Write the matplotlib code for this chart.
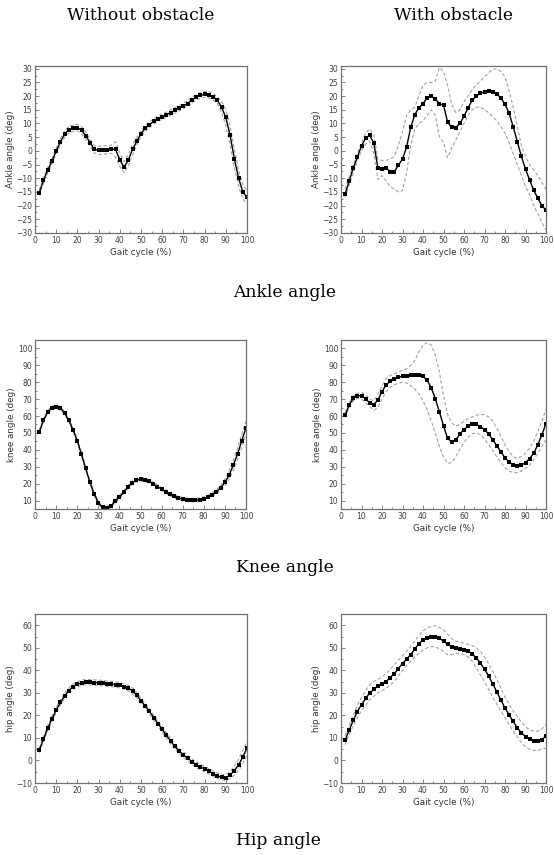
import numpy as np
import matplotlib.pyplot as plt

# gait cycle sample points (%)
gait = list(range(2, 101, 2))

# ---------------- ankle ----------------
ankle_no_mean = [-15.3, -10.8, -7.0, -3.8, 0.0, 3.3, 6.2, 7.8, 8.3, 8.5,
                 7.5, 5.5, 3.0, 0.5, 0.2, 0.3, 0.4, 0.6, 0.5, -3.2,
                 -6.0, -3.4, 0.5, 3.5, 6.3, 8.2, 9.5, 10.8, 11.8, 12.5,
                 13.2, 14.0, 14.8, 15.6, 16.4, 17.3, 18.6, 19.5, 20.3, 20.6,
                 20.5, 19.8, 18.5, 16.0, 12.2, 5.8, -2.8, -9.8, -15.0, -17.0]
ankle_no_sd = [1.0, 1.0, 1.0, 1.0, 1.0, 1.2, 1.2, 1.2, 1.2, 1.2,
               1.3, 1.3, 1.3, 1.3, 1.5, 1.5, 1.5, 1.5, 2.8, 2.5,
               2.0, 2.0, 2.0, 1.5, 1.0, 1.0, 1.0, 1.0, 1.0, 1.0,
               1.0, 1.0, 1.0, 1.0, 1.0, 1.0, 1.0, 1.0, 1.0, 1.0,
               1.2, 1.2, 1.2, 2.0, 3.0, 3.5, 3.5, 3.0, 2.5, 2.5]

ankle_ob_mean = [-15.8, -11.0, -6.3, -2.2, 1.8, 4.6, 5.7, 2.8, -6.3, -6.8,
                 -6.2, -7.6, -7.7, -5.2, -3.0, 1.4, 8.6, 13.2, 15.8, 17.2,
                 19.4, 20.0, 19.0, 17.2, 16.7, 10.5, 8.6, 8.5, 10.0, 12.6,
                 15.7, 18.5, 20.0, 21.0, 21.6, 21.8, 21.5, 20.8, 19.3, 17.0,
                 13.8, 8.8, 3.4, -2.0, -6.7, -10.6, -14.4, -17.3, -20.0, -21.7]
ankle_ob_up = [-14.0, -9.5, -5.0, -1.0, 3.0, 6.5, 8.0, 6.0, -3.0, -3.5,
               -3.5, -3.0, -2.0, 2.0, 7.0, 13.0, 15.0, 16.0, 20.0, 24.0,
               25.0, 25.0, 25.5, 30.5, 29.0, 24.0, 17.0, 14.0, 15.0, 18.0,
               20.0, 22.5, 24.0, 25.5, 27.0, 28.5, 29.8, 30.0, 29.0, 27.0,
               22.0, 16.0, 9.0, 2.0, -2.0, -5.0, -7.0, -9.0, -11.5, -14.0]
ankle_ob_lo = [-17.0, -12.5, -8.0, -3.5, 0.0, 2.5, 3.5, -1.0, -10.5, -9.0,
               -11.0, -13.0, -14.0, -15.0, -14.5, -8.0, 2.0, 8.0, 10.0, 11.0,
               13.0, 15.0, 13.0, 5.0, 3.0, -2.5, 1.0, 4.0, 7.0, 10.0,
               13.0, 15.0, 16.0, 16.0, 15.0, 14.0, 12.5, 11.0, 9.0, 6.5,
               3.0, -1.0, -5.0, -9.0, -13.0, -16.0, -20.0, -23.0, -26.0, -29.0]

# ---------------- knee ----------------
knee_no_mean = [50.5, 57.5, 62.3, 64.8, 65.3, 64.6, 61.8, 57.5, 52.0, 45.5,
                37.5, 29.0, 21.0, 14.0, 8.8, 6.0, 5.5, 6.8, 9.5, 12.0,
                14.8, 18.0, 20.5, 22.0, 22.5, 22.2, 21.3, 19.8, 18.3, 16.8,
                15.2, 13.7, 12.5, 11.5, 10.8, 10.4, 10.3, 10.3, 10.6, 11.2,
                12.3, 13.5, 15.2, 17.5, 20.8, 25.0, 31.0, 37.5, 45.5, 53.0]
knee_no_sd = [1.0, 1.0, 1.0, 1.0, 1.0, 1.0, 1.0, 1.0, 1.0, 1.0,
              1.0, 1.0, 1.0, 1.0, 1.0, 1.0, 1.0, 1.0, 1.0, 1.0,
              1.0, 1.0, 1.0, 1.0, 1.0, 1.0, 1.0, 1.0, 1.0, 1.0,
              1.0, 1.0, 1.0, 1.0, 1.0, 1.0, 1.0, 1.0, 1.0, 1.0,
              1.0, 1.0, 1.2, 1.5, 2.0, 2.5, 3.0, 3.5, 4.0, 4.0]

knee_ob_mean = [60.5, 66.5, 70.5, 72.0, 72.0, 70.3, 67.8, 66.8, 69.5, 74.5,
                78.5, 80.5, 82.0, 83.0, 83.5, 83.8, 84.0, 84.3, 84.5, 83.5,
                81.3, 76.8, 70.3, 62.5, 54.3, 46.8, 44.8, 45.7, 49.5, 52.0,
                54.0, 55.0, 55.0, 53.8, 51.8, 49.5, 46.0, 42.5, 38.8, 35.3,
                32.8, 31.0, 30.5, 31.0, 32.5, 34.8, 38.0, 43.0, 49.0, 55.5]
knee_ob_up = [62.0, 68.0, 72.0, 73.5, 74.0, 72.5, 70.0, 69.0, 73.0, 78.0,
              82.0, 84.0, 85.0, 86.0, 87.0, 88.0, 90.0, 93.0, 98.0, 102.0,
              103.5, 102.0, 96.0, 86.0, 72.0, 61.0, 56.0, 54.0, 55.0, 57.0,
              58.5, 59.5, 60.5, 61.0, 60.8, 59.5, 57.0, 53.0, 48.0, 43.0,
              39.0, 36.0, 35.0, 36.0, 38.0, 41.0, 45.0, 51.0, 57.0, 64.0]
knee_ob_lo = [59.0, 65.0, 69.0, 70.5, 70.0, 68.0, 65.5, 63.5, 65.0, 70.0,
              74.5, 77.0, 78.5, 79.5, 80.0, 79.5, 78.0, 76.0, 73.0, 69.0,
              64.0, 57.0, 50.0, 42.0, 35.5, 32.0, 32.5, 36.0, 40.5, 44.5,
              47.5, 49.5, 50.0, 49.0, 46.5, 43.0, 39.5, 36.0, 32.5, 29.5,
              27.5, 26.5, 26.5, 27.5, 29.0, 31.0, 34.0, 38.0, 42.0, 46.0]

# ---------------- hip ----------------
hip_no_mean = [4.5, 9.5, 14.3, 18.5, 22.3, 25.8, 28.7, 31.0, 32.8, 33.8,
               34.5, 34.8, 34.7, 34.6, 34.5, 34.3, 34.1, 33.9, 33.7, 33.4,
               32.8, 32.1, 30.9, 29.0, 26.5, 24.2, 21.8, 19.0, 16.4, 13.8,
               11.2, 8.5, 6.2, 4.2, 2.5, 1.0, -0.5, -1.8, -2.8, -3.8,
               -4.8, -5.8, -6.8, -7.5, -7.6, -6.5, -4.5, -2.0, 1.5, 5.5]
hip_no_sd = [1.0, 1.0, 1.2, 1.2, 1.2, 1.2, 1.2, 1.2, 1.2, 1.2,
             1.2, 1.2, 1.2, 1.2, 1.2, 1.2, 1.2, 1.2, 1.2, 1.2,
             1.2, 1.2, 1.2, 1.2, 1.2, 1.2, 1.2, 1.2, 1.2, 1.2,
             1.2, 1.2, 1.2, 1.2, 1.2, 1.2, 1.2, 1.2, 1.2, 1.2,
             1.2, 1.2, 1.2, 1.2, 1.2, 1.5, 2.0, 2.5, 3.0, 3.0]

hip_ob_mean = [9.0, 13.5, 17.8, 21.7, 24.8, 27.5, 30.0, 31.5, 33.0, 34.0,
               35.0, 36.8, 38.5, 40.8, 43.0, 45.0, 47.0, 49.5, 51.8, 53.5,
               54.5, 55.0, 55.0, 54.2, 53.0, 51.5, 50.5, 50.0, 49.5, 49.2,
               48.5, 47.3, 45.5, 43.2, 40.5, 37.5, 34.0, 30.5, 26.8, 23.3,
               20.3, 17.3, 14.5, 12.3, 10.5, 9.5, 8.8, 8.6, 9.3, 10.8]
hip_ob_up = [11.0, 15.5, 20.0, 24.5, 28.0, 31.0, 33.5, 35.0, 36.0, 37.0,
             38.5, 40.5, 42.5, 44.5, 46.5, 48.5, 50.5, 53.0, 55.5, 57.5,
             58.8, 59.5, 59.8, 59.0, 58.0, 56.0, 54.0, 53.0, 52.5, 52.0,
             51.5, 51.0, 50.0, 48.5, 46.0, 43.0, 39.5, 36.0, 32.0, 28.0,
             25.0, 22.0, 19.5, 17.0, 15.0, 13.5, 13.0, 13.0, 14.0, 16.0]
hip_ob_lo = [7.0, 11.5, 15.5, 19.0, 22.0, 24.5, 27.0, 28.5, 30.0, 31.0,
             32.0, 33.5, 35.0, 37.5, 40.0, 42.0, 44.0, 46.0, 47.5, 49.0,
             50.0, 50.5, 50.5, 49.5, 48.5, 47.0, 47.0, 47.5, 47.5, 47.0,
             46.0, 44.0, 41.0, 38.0, 35.0, 31.5, 28.0, 25.0, 22.0, 19.0,
             16.0, 13.0, 10.5, 8.0, 6.0, 5.0, 4.5, 4.5, 5.0, 5.5]

col_titles = ['Without obstacle', 'With obstacle']
row_titles = ['Ankle angle', 'Knee angle', 'Hip angle']
y_labels = ['Ankle angle (deg)', 'knee angle (deg)', 'hip angle (deg)']
y_limits = [(-30, 31), (5, 105), (-10, 65)]
y_ticks = [np.arange(-30, 31, 5), np.arange(10, 101, 10), np.arange(-10, 61, 10)]

W, H = 554, 855
fig = plt.figure(figsize=(W / 100, H / 100), dpi=100)

# axes boxes in pixels: (left, top, right, bottom)
boxes = [
    [(35, 66, 247, 233), (341, 66, 546, 233)],
    [(35, 340, 246, 509), (341, 340, 546, 509)],
    [(35, 614, 247, 783), (341, 614, 546, 783)],
]

frame_col = '#707070'
tick_col = '#404040'


def add_panel(box, mean, upper, lower, r):
    l, t, rgt, b = box
    ax = fig.add_axes([l / W, 1 - b / H, (rgt - l) / W, (b - t) / H])
    ax.plot(gait, upper, color='#a0a0a0', lw=0.8, ls=(0, (3, 2)))
    ax.plot(gait, lower, color='#a0a0a0', lw=0.8, ls=(0, (3, 2)))
    ax.plot(gait, mean, color='black', lw=1.0, marker='s', ms=3.4,
            markeredgewidth=0)
    ax.set_xlim(0, 100)
    ax.set_ylim(*y_limits[r])
    ax.set_xticks(range(0, 101, 10))
    ax.set_xticks(range(5, 100, 10), minor=True)
    ax.set_yticks(y_ticks[r])
    step = y_ticks[r][1] - y_ticks[r][0]
    ax.set_yticks(np.arange(y_ticks[r][0] + step / 2, y_ticks[r][-1], step), minor=True)
    ax.tick_params(which='both', direction='in', colors=frame_col,
                   labelcolor=tick_col, labelsize=5.5, width=0.6, pad=2)
    ax.tick_params(which='major', length=3)
    ax.tick_params(which='minor', length=1.6)
    for s in ax.spines.values():
        s.set_color(frame_col)
        s.set_linewidth(0.9)
    ax.set_xlabel('Gait cycle (%)', fontsize=6.3, color='#333333', labelpad=2)
    ax.set_ylabel(y_labels[r], fontsize=6.3, color='#333333', labelpad=1)
    return ax


data = [
    [(ankle_no_mean, [m + s for m, s in zip(ankle_no_mean, ankle_no_sd)],
      [m - s for m, s in zip(ankle_no_mean, ankle_no_sd)]),
     (ankle_ob_mean, ankle_ob_up, ankle_ob_lo)],
    [(knee_no_mean, [m + s for m, s in zip(knee_no_mean, knee_no_sd)],
      [m - s for m, s in zip(knee_no_mean, knee_no_sd)]),
     (knee_ob_mean, knee_ob_up, knee_ob_lo)],
    [(hip_no_mean, [m + s for m, s in zip(hip_no_mean, hip_no_sd)],
      [m - s for m, s in zip(hip_no_mean, hip_no_sd)]),
     (hip_ob_mean, hip_ob_up, hip_ob_lo)],
]

for r in range(3):
    for c in range(2):
        mean, up, lo = data[r][c]
        add_panel(boxes[r][c], mean, up, lo, r)

serif = 'DejaVu Serif'
fig.text(141 / W, 1 - 16 / H, col_titles[0], family=serif, fontsize=12.3,
         ha='center', va='center')
fig.text(453 / W, 1 - 16 / H, col_titles[1], family=serif, fontsize=12.3,
         ha='center', va='center')
row_y = [292, 567, 840]
row_x = [285, 285, 278]
for i, txt in enumerate(row_titles):
    fig.text(row_x[i] / W, 1 - row_y[i] / H, txt, family=serif, fontsize=12.3,
             ha='center', va='center')

fig.savefig('out.png', dpi=100)
